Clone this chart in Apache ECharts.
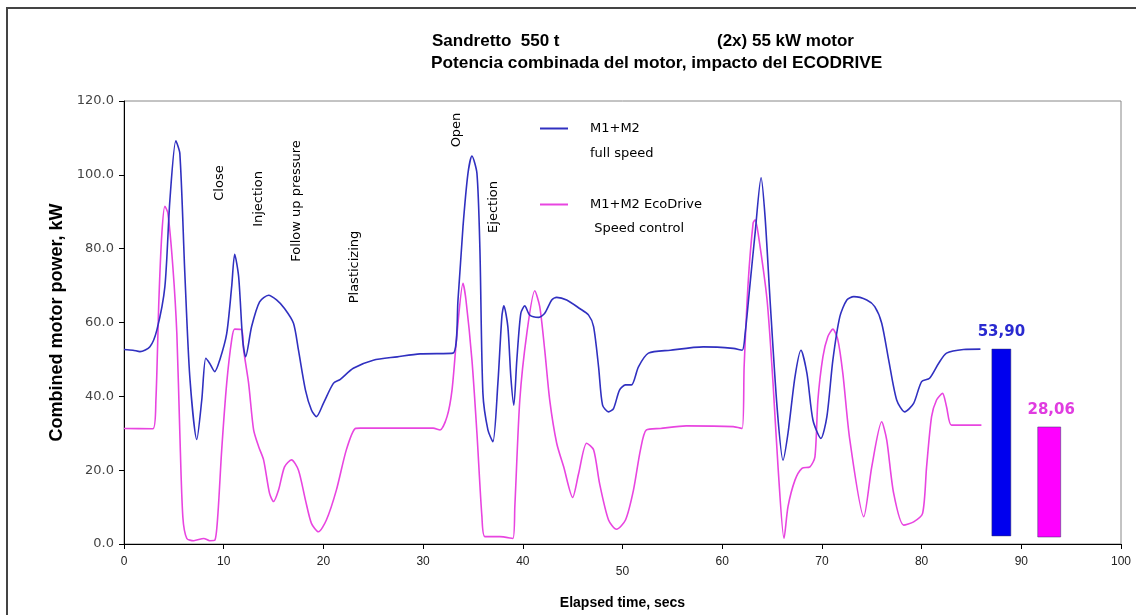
<!DOCTYPE html>
<html><head><meta charset="utf-8">
<script src="https://cdn.jsdelivr.net/npm/echarts@6/dist/echarts.min.js"></script>
<style>html,body{margin:0;padding:0;background:#fff}#c{width:1136px;height:615px}</style>
</head><body><div id="c"></div>
<script>
// ---- data ----
const timeFull = [0,0.9,1.6,2.6,3.3,4.1,4.6,5.2,5.6,6.1,6.6,7.3,7.8,8.2,8.6,9.1,9.6,10.3,10.8,11.1,11.5,11.9,12.2,12.8,13.6,14.5,15.3,16.1,17.0,17.5,18.2,18.8,19.3,20.0,21.0,21.7,23.0,25.0,27.4,29.7,33.0,33.5,34.0,34.5,34.9,35.4,35.7,36.0,36.5,37.0,37.5,37.9,38.1,38.5,38.8,39.1,39.4,39.8,40.2,40.7,41.6,42.2,42.9,43.4,44.4,45.7,46.6,47.1,47.6,48.0,48.6,49.1,49.7,50.3,50.9,51.6,52.6,54.8,58.1,61.1,62.0,62.3,62.8,63.3,63.9,64.3,64.8,65.5,66.1,66.6,67.3,67.9,68.5,69.1,69.9,70.5,71.1,71.8,72.5,73.2,74.5,75.3,76.0,76.7,77.5,78.3,79.2,80.0,80.8,81.7,82.5,84.2,85.9];
const powerFull = [52.7,52.5,52.1,53.4,58,69.7,93,109.2,105.8,73.4,45.3,28.3,39,50.3,48.9,46.7,49.8,57,69.7,78.5,72.4,55.3,50.7,58.9,65.6,67.4,66.1,63.8,59.8,52.5,41.7,36.3,34.5,38.1,43.5,44.6,47.6,49.8,50.7,51.5,51.7,66.1,85.9,100.4,105.1,100.4,79.6,40.8,30.9,27.7,43.5,61.6,64.5,58.9,45.3,37.6,49.8,62.5,64.5,62,61.4,62.5,66.1,66.8,66.1,63.8,62,58.9,48,37.6,35.8,36.7,41.7,43.1,43.1,48,51.7,52.5,53.4,53,52.5,57,70.6,84.2,99.2,88.6,66.1,37.2,22.7,30,45.3,52.5,46.2,33.6,28.6,34.5,49.8,61.6,66.1,67,66.1,64.3,59.8,49.8,39,35.8,38.1,44,44.9,48.9,51.7,52.7,52.8];
const timeEco = [0,2.9,3.2,3.5,3.8,4.1,4.4,4.9,5.3,5.6,5.9,6.3,7.0,8.0,8.6,9.1,9.4,9.8,10.3,10.8,11.1,11.8,12.0,12.5,13.0,13.5,14.0,14.6,15.0,15.5,16.1,16.8,17.5,18.2,18.8,19.5,20.3,21.3,22.3,23.2,23.7,31.0,31.7,32.4,32.9,33.4,34.0,34.3,34.9,35.4,35.9,36.2,37.7,39.0,39.2,39.7,40.4,41.2,41.7,42.2,42.7,43.4,44.1,45.0,45.6,46.4,47.1,47.7,48.6,49.4,50.3,51.1,51.8,52.4,53.8,56.4,61.1,62.0,62.2,62.6,63.1,63.3,63.6,64.5,65.1,65.6,66.2,66.6,67.3,68.0,68.8,69.3,69.6,70.1,70.6,71.1,71.6,72.1,72.8,74.2,75.0,76.0,76.5,77.2,78.2,79.2,80.1,80.5,81.0,81.5,82.1,82.5,83.0,84.5,86.0];
const powerEco = [31.3,31.2,39,66.1,84.2,91.5,89.6,75.1,57,30,7.4,1.5,0.9,1.5,0.9,1.0,7.4,25.5,43.5,55.3,58.2,58,52.5,43.5,30.9,26.4,22.8,13.7,11.5,14.6,20.9,22.8,20,11.9,5.6,3.3,6.5,14.6,25.5,31.3,31.4,31.4,30.9,34.5,41.7,57,70.6,66.1,49.8,30,7.4,2,2,1.5,10.1,39,57,68.6,64.3,52.5,39,27.3,20.9,12.6,19.1,27.3,25.5,16.4,6.5,4,6.5,14.6,25.5,30.9,31.3,32,31.8,31.3,48,70.6,86.9,87.8,84.2,66.1,43.5,20.9,1.5,10.1,17.3,20.5,20.9,23.6,39,50.7,56.2,58.2,55.3,46.2,28.2,7.4,20.9,33.1,28.2,13.7,5.1,6,8.3,20.9,34.5,39,40.8,37.2,32.2,32.2,32.2];
const seriesNames = ['M1+M2', 'M1+M2 EcoDrive'];
const seriesSubNames = ['full speed', ' Speed control'];
const barX = [88.0, 92.8];
const barBase = [2.2, 1.9];
const barTop = [52.8, 31.7];
const barLabels = ['53,90', '28,06'];
const phaseLabels = ['Close', 'Injection', 'Follow up pressure', 'Plasticizing', 'Open', 'Ejection'];
const titleLines = ['Sandretto  550 t', '(2x) 55 kW motor', 'Potencia combinada del motor, impacto del ECODRIVE'];
const xAxisName = 'Elapsed time, secs';
const yAxisName = 'Combined motor power, kW';

// ---- styling ----
const BLUE = '#3030c0', MAG = '#e845e0';
const BAR_COL = ['#0000ee', '#ff00ff'];
const BAR_LBL = ['#2a2ad0', '#e03ce0'];
const BAR_W = [1.9, 2.3];
const SANS = '"Liberation Sans", Arial, sans-serif';
const WIDE = '"DejaVu Sans", Verdana, sans-serif';

const zip = (a, b) => a.map((v, i) => [v, b[i]]);
const phasePos = [[220,183],[259,199],[297,201],[355,267],[457,130],[494,207]];

const chart = echarts.init(document.getElementById('c'), null, {renderer: 'canvas'});
const tStyle = {fontFamily: SANS, fontSize: 17, fontWeight: 'bold', color: '#000'};
chart.setOption({
  animation: false,
  backgroundColor: '#fff',
  title: [
    {text: titleLines[0], left: 432, top: 33, padding: 0, textStyle: tStyle},
    {text: titleLines[1], left: 717, top: 33, padding: 0, textStyle: tStyle},
    {text: titleLines[2], left: 431, top: 55, padding: 0, textStyle: Object.assign({}, tStyle, {fontSize: 17.3})}
  ],
  grid: {left: 124, right: 15, top: 101, bottom: 71, show: true, borderColor: '#888', borderWidth: 1, containLabel: false},
  legend: [
    {data: [seriesNames[0]], left: 540, top: 122, padding: 0, orient: 'vertical', icon: 'rect', itemWidth: 28, itemHeight: 2,
     textStyle: {fontFamily: WIDE, fontSize: 13, color: '#000', padding: [0, 0, 0, 17]}},
    {data: [seriesNames[1]], left: 540, top: 198, padding: 0, orient: 'vertical', icon: 'rect', itemWidth: 28, itemHeight: 2,
     textStyle: {fontFamily: WIDE, fontSize: 13, color: '#000', padding: [10, 0, 0, 17]}}
  ],
  xAxis: {
    type: 'value', min: 0, max: 100, interval: 10,
    name: xAxisName, nameLocation: 'middle', nameGap: 52,
    nameTextStyle: {fontFamily: SANS, fontSize: 14, fontWeight: 'bold', color: '#000'},
    axisLine: {show: true, lineStyle: {color: '#000', width: 1}},
    axisTick: {show: true, length: 5, lineStyle: {color: '#000'}},
    splitLine: {show: false},
    axisLabel: {
      fontFamily: SANS, fontSize: 12, color: '#222', margin: 12,
      formatter: v => v === 50 ? '{low|50}' : String(v),
      rich: {low: {fontFamily: SANS, fontSize: 12, color: '#222', padding: [10, 0, 0, 0]}}
    }
  },
  yAxis: {
    type: 'value', min: 0, max: 120, interval: 20,
    name: yAxisName, nameLocation: 'middle', nameGap: 56, nameRotate: 90,
    nameTextStyle: {fontFamily: SANS, fontSize: 18, fontWeight: 'bold', color: '#000'},
    axisLine: {show: true, lineStyle: {color: '#000', width: 1}},
    axisTick: {show: true, length: 5, lineStyle: {color: '#000'}},
    splitLine: {show: false},
    axisLabel: {fontFamily: WIDE, fontSize: 13, color: '#444', margin: 10, formatter: v => v.toFixed(1)}
  },
  series: [
    {name: seriesNames[0], type: 'line', data: zip(timeFull, powerFull), smooth: 0.25, symbol: 'none',
     lineStyle: {color: BLUE, width: 1.6}, itemStyle: {color: BLUE}, z: 3},
    {name: seriesNames[1], type: 'line', data: zip(timeEco, powerEco), smooth: 0.25, symbol: 'none',
     lineStyle: {color: MAG, width: 1.6}, itemStyle: {color: MAG}, z: 2},
    {name: 'avg', type: 'custom', data: barX.map((x, i) => [x, barBase[i], barTop[i], i]),
     renderItem: function (params, api) {
       const i = api.value(3);
       const pTop = api.coord([api.value(0), api.value(2)]);
       const pBot = api.coord([api.value(0), api.value(1)]);
       const w = api.size([BAR_W[i], 0])[0];
       return {type: 'group', children: [
         {type: 'rect', shape: {x: pTop[0] - w / 2, y: pTop[1], width: w, height: pBot[1] - pTop[1]},
          style: {fill: BAR_COL[i], stroke: '#333366', lineWidth: 0.5}},
         {type: 'text', style: {text: barLabels[i], x: pTop[0] + (i === 1 ? 2 : 0), y: pTop[1] - 9,
          align: 'center', verticalAlign: 'bottom', fill: BAR_LBL[i],
          font: 'bold 15px ' + WIDE}}
       ]};
     }, z: 4}
  ],
  graphic: [
    {type: 'rect', shape: {x: 7, y: 8, width: 1200, height: 700}, style: {fill: null, stroke: '#444', lineWidth: 2}, silent: true, z: 0},
    {type: 'text', x: 590, y: 154, style: {text: seriesSubNames[0], font: '13px ' + WIDE, fill: '#000', textVerticalAlign: 'middle'}},
    {type: 'text', x: 590, y: 229, style: {text: seriesSubNames[1], font: '13px ' + WIDE, fill: '#000', textVerticalAlign: 'middle'}}
  ].concat(phaseLabels.map((t, i) => ({
    type: 'text', x: phasePos[i][0], y: phasePos[i][1], rotation: Math.PI / 2,
    style: {text: t, font: '13px ' + WIDE, fill: '#000', textAlign: 'center', textVerticalAlign: 'middle'}
  })))
});
</script>
</body></html>
